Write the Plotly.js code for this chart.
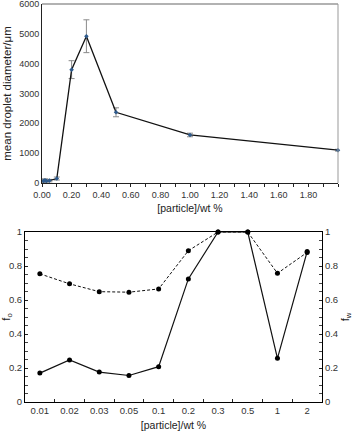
<!DOCTYPE html>
<html>
<head>
<meta charset="utf-8">
<script src="https://cdn.plot.ly/plotly-3.0.1.min.js"></script>
<style>html,body{margin:0;padding:0;background:#fff;}#chart{width:353px;height:434px;}</style>
</head>
<body>
<div id="chart"></div>
<script>
// Top chart: mean droplet diameter vs particle concentration
var concentration = [0.01, 0.02, 0.03, 0.05, 0.1, 0.2, 0.3, 0.5, 1.0, 2.0];
var diameter = [70, 90, 70, 80, 150, 3800, 4920, 2370, 1610, 1100];
var diameterErr = [50, 50, 40, 40, 50, 300, 550, 150, 60, 30];
var topTickVals = [0, 0.2, 0.4, 0.6, 0.8, 1.0, 1.2, 1.4, 1.6, 1.8];
var topTickText = ["0.00", "0.20", "0.40", "0.60", "0.80", "1.00", "1.20", "1.40", "1.60", "1.80"];
var diameterTicks = [0, 1000, 2000, 3000, 4000, 5000, 6000];

// Bottom chart: fractions vs particle concentration (categorical)
var categories = ["0.01", "0.02", "0.03", "0.05", "0.1", "0.2", "0.3", "0.5", "1", "2"];
var fo = [0.17, 0.247, 0.176, 0.156, 0.208, 0.724, 1.0, 1.0, 0.257, 0.885];
var fw = [0.754, 0.695, 0.649, 0.646, 0.665, 0.89, 1.0, 1.0, 0.757, 0.88];

var W = 353, H = 434;
function dx(a, b) { return [a / W, b / W]; }
function dy(top, bottom) { return [(H - bottom) / H, (H - top) / H]; }

var fontFam = "Liberation Sans, Arial, sans-serif";
var tickFont = {family: fontFam, size: 9, color: "#333"};
var tickFont2 = {family: fontFam, size: 9.5, color: "#333"};
var titleFont = {family: fontFam, size: 10.5, color: "#222"};
var yTitleFont = {family: fontFam, size: 11.5, color: "#222"};
var fTitleFont = {family: fontFam, size: 11, color: "#222"};

var traces = [
  {
    x: concentration, y: diameter, xaxis: "x", yaxis: "y",
    type: "scatter", mode: "lines+markers",
    line: {color: "#111", width: 1.3},
    marker: {color: "#2e5a8c", size: 3.5, symbol: "diamond"},
    error_y: {type: "data", array: diameterErr, visible: true, color: "#8a8a8a", thickness: 1, width: 3},
    cliponaxis: false, showlegend: false
  },
  {
    x: categories, y: fw, xaxis: "x2", yaxis: "y3",
    type: "scatter", mode: "lines+markers",
    line: {color: "#111", width: 1, dash: "3px,2px"},
    marker: {color: "#000", size: 5},
    cliponaxis: false, showlegend: false
  },
  {
    x: categories, y: fo, xaxis: "x2", yaxis: "y2",
    type: "scatter", mode: "lines+markers",
    line: {color: "#111", width: 1.2},
    marker: {color: "#000", size: 5},
    cliponaxis: false, showlegend: false
  }
];

var layout = {
  width: W, height: H,
  margin: {l: 0, r: 0, t: 0, b: 0},
  paper_bgcolor: "#fff", plot_bgcolor: "#fff",
  showlegend: false,
  xaxis: {
    domain: dx(42, 338), anchor: "y",
    range: [0, 2.0], tickmode: "array", tickvals: topTickVals, ticktext: topTickText,
    showgrid: false, zeroline: false,
    showline: true, linecolor: "#222", linewidth: 1,
    ticks: "outside", ticklen: 3, tickcolor: "#222",
    minor: {tickmode: "linear", tick0: 0, dtick: 0.1, ticks: "outside", ticklen: 3, tickcolor: "#222", showgrid: false},
    tickfont: tickFont, ticklabeloverflow: "allow",
    title: {text: "[particle]/wt %", font: titleFont, standoff: 5}
  },
  yaxis: {
    domain: dy(4, 183), anchor: "x",
    range: [0, 6000], tickmode: "array", tickvals: diameterTicks,
    showgrid: false, zeroline: false,
    showline: true, linecolor: "#222", linewidth: 1,
    ticks: "", tickfont: tickFont, ticklabeloverflow: "allow",
    title: {text: "mean droplet diameter/μm", font: yTitleFont, standoff: 5}
  },
  xaxis2: {
    domain: dx(25, 322), anchor: "y2",
    type: "category", categoryorder: "array", categoryarray: categories,
    range: [-0.5, 9.5],
    showgrid: false, zeroline: false,
    showline: true, linecolor: "#000", linewidth: 1, mirror: true,
    ticks: "inside", tickson: "boundaries", ticklen: 3, tickcolor: "#222",
    tickfont: tickFont2, ticklabeloverflow: "allow",
    title: {text: "[particle]/wt %", font: titleFont, standoff: 6}
  },
  yaxis2: {
    domain: dy(232, 402), anchor: "x2",
    range: [0, 1], dtick: 0.2,
    showgrid: false, zeroline: false,
    showline: true, linecolor: "#000", linewidth: 1,
    ticks: "inside", ticklen: 3, tickcolor: "#222",
    minor: {dtick: 0.05, ticks: "inside", ticklen: 3, tickcolor: "#444", showgrid: false},
    tickfont: tickFont2, ticklabeloverflow: "allow",
    title: {text: "f<sub>o</sub>", font: fTitleFont, standoff: 4}
  },
  yaxis3: {
    domain: dy(232, 402), anchor: "x2", overlaying: "y2", side: "right",
    range: [0, 1], dtick: 0.2,
    showgrid: false, zeroline: false,
    showline: true, linecolor: "#000", linewidth: 1,
    ticks: "inside", ticklen: 3, tickcolor: "#222",
    minor: {dtick: 0.05, ticks: "inside", ticklen: 3, tickcolor: "#444", showgrid: false},
    tickfont: tickFont2, ticklabeloverflow: "allow",
    title: {text: "f<sub>w</sub>", font: fTitleFont, standoff: 4}
  },
  shapes: [
    {type: "line", xref: "x domain", yref: "y domain", x0: 0, x1: 1, y0: 1, y1: 1, line: {color: "#999", width: 1.5}},
    {type: "line", xref: "x domain", yref: "y domain", x0: 1, x1: 1, y0: 0, y1: 1, line: {color: "#999", width: 1}}
  ]
};

Plotly.newPlot("chart", traces, layout, {staticPlot: true, displayModeBar: false});
</script>
</body>
</html>
